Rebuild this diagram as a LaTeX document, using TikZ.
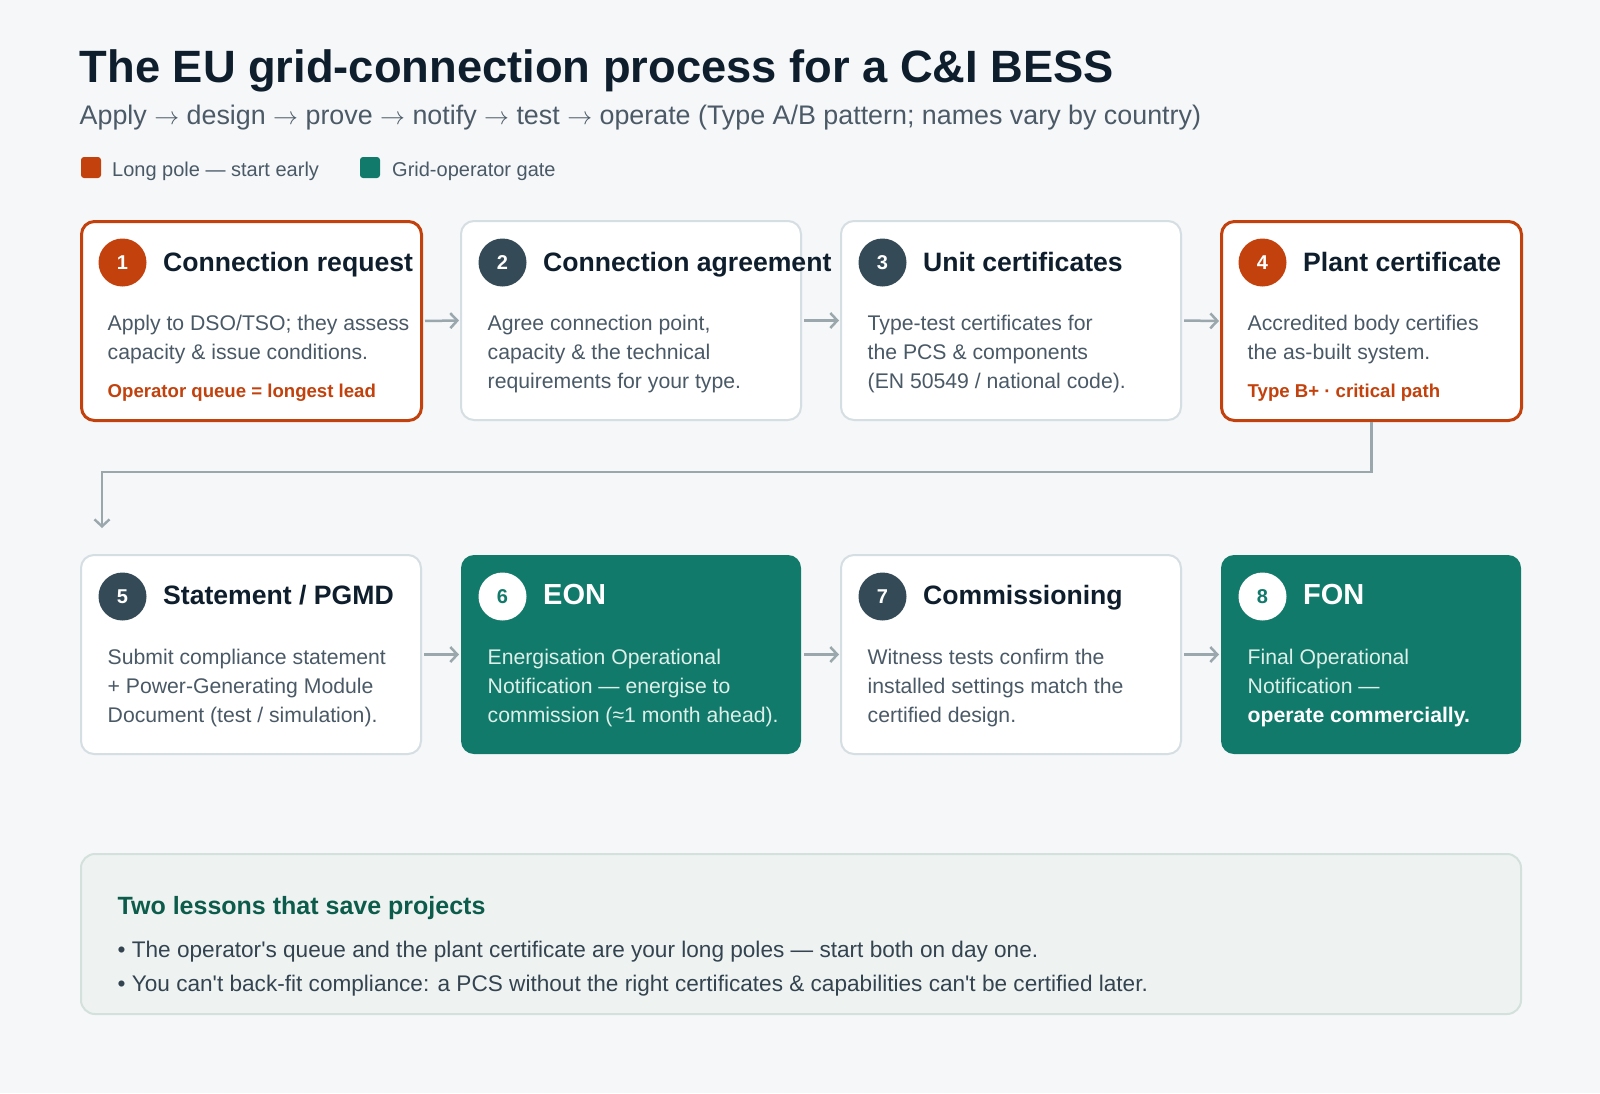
\documentclass[tikz,border=0pt]{standalone}
\usepackage{fontspec}
\setmainfont{Liberation Sans}
\usetikzlibrary{arrows.meta}
\definecolor{bg}{HTML}{F5F7F9}
\definecolor{ink}{HTML}{0F1E2C}
\definecolor{sub}{HTML}{4B5A66}
\definecolor{body}{HTML}{4A5966}
\definecolor{cardline}{HTML}{D5DEE2}
\definecolor{longc}{HTML}{C2410C}
\definecolor{gatec}{HTML}{117A6A}
\definecolor{dark}{HTML}{344A57}
\definecolor{arrowc}{HTML}{9AA7AD}
\definecolor{gatetext}{HTML}{DDEFEA}
\definecolor{lessfill}{HTML}{EEF3F2}
\definecolor{lessline}{HTML}{D3E0DC}
\definecolor{lesstitle}{HTML}{0D5C4B}
\definecolor{lesstext}{HTML}{33434F}
\newcommand\thento{$\rightarrow$}
\begin{document}
\begin{tikzpicture}[x=1pt,y=-1pt,
  card/.style={draw=cardline,line width=2pt,fill=white,rounded corners=13pt,
    anchor=north west,inner sep=0pt,minimum width=340pt,minimum height=199pt},
  longpole/.style={draw=longc,line width=3pt},
  gate/.style={draw=none,fill=gatec},
  num/.style={circle,fill=dark,text=white,minimum size=48pt,inner sep=0pt,
    font=\fontsize{20}{20}\selectfont\bfseries},
  ttl/.style={anchor=base west,inner sep=0pt,text=ink,
    font=\fontsize{26.6}{30}\selectfont\bfseries},
  gttl/.style={ttl,text=white,font=\fontsize{29}{32}\selectfont\bfseries},
  txt/.style={anchor=base west,inner sep=0pt,text=body,
    font=\fontsize{21.2}{26}\selectfont},
  lead/.style={anchor=base west,inner sep=0pt,text=longc,
    font=\fontsize{18.6}{22}\selectfont\bfseries},
  lesson/.style={anchor=base west,inner sep=0pt,text=lesstext,
    font=\fontsize{22.6}{27}\selectfont},
  flow/.style={draw=arrowc,line width=2.5pt,-{Straight Barb[length=7pt,width=15pt]}}]
\useasboundingbox[fill=bg] (0,0) rectangle (1600,1093);

% heading and legend
\node[anchor=base west,inner sep=0pt,text=ink,font=\fontsize{45.3}{50}\selectfont\bfseries]
  (title) at (79.5,82) {The EU grid-connection process for a C\&I BESS};
\node[anchor=base west,inner sep=0pt,text=sub,font=\fontsize{26.85}{32}\selectfont]
  (subtitle) at (79.5,124.5) {Apply \thento{} design \thento{} prove \thento{} notify \thento{} test \thento{} operate (Type A/B pattern; names vary by country)};
\fill[longc,rounded corners=3pt] (81,157) rectangle (101,178);
\node[txt] (key1) at (112,176) {\fontsize{20}{24}\selectfont Long pole — start early};
\fill[gatec,rounded corners=3pt] (360,157) rectangle (380,178);
\node[txt] (key2) at (392,176) {\fontsize{20}{24}\selectfont Grid-operator gate};

% row 1
\node[card,longpole] (c1) at (80,220) {};
\node[num,fill=longc] (n1) at (122.5,262.5) {1};
\node[ttl] (t1) at (163,271) {Connection request};
\foreach \l [count=\k from 0] in {{Apply to DSO/TSO; they assess},{capacity \& issue conditions.}}
  \node[txt] (d1-\k) at (107.5,330+29*\k) {\l};
\node[lead] (r1) at (107.5,397) {Operator queue = longest lead};

\node[card] (c2) at (460,220) {};
\node[num] (n2) at (502.5,262.5) {2};
\node[ttl] (t2) at (543,271) {Connection agreement};
\foreach \l [count=\k from 0] in {{Agree connection point,},{capacity \& the technical},{requirements for your type.}}
  \node[txt] (d2-\k) at (487.5,330+29*\k) {\l};

\node[card] (c3) at (840,220) {};
\node[num] (n3) at (882.5,262.5) {3};
\node[ttl] (t3) at (923,271) {Unit certificates};
\foreach \l [count=\k from 0] in {{Type-test certificates for},{the PCS \& components},{(EN 50549 / national code).}}
  \node[txt] (d3-\k) at (867.5,330+29*\k) {\l};

\node[card,longpole,minimum width=300pt] (c4) at (1220,220) {};
\node[num,fill=longc] (n4) at (1262.5,262.5) {4};
\node[ttl] (t4) at (1303,271) {Plant certificate};
\foreach \l [count=\k from 0] in {{Accredited body certifies},{the as-built system.}}
  \node[txt] (d4-\k) at (1247.5,330+29*\k) {\l};
\node[lead] (r4) at (1247.5,397) {Type B+ · critical path};

% row 2
\node[card] (c5) at (80,554) {};
\node[num] (n5) at (122.5,596.5) {5};
\node[ttl] (t5) at (163,604) {Statement / PGMD};
\foreach \l [count=\k from 0] in {{Submit compliance statement},{+ Power-Generating Module},{Document (test / simulation).}}
  \node[txt] (d5-\k) at (107.5,664+29*\k) {\l};

\node[card,gate] (c6) at (460,554) {};
\node[num,fill=white,text=gatec] (n6) at (502.5,596.5) {6};
\node[gttl] (t6) at (543,604) {EON};
\foreach \l [count=\k from 0] in {{Energisation Operational},{Notification — energise to},{commission (≈1 month ahead).}}
  \node[txt,text=gatetext] (d6-\k) at (487.5,664+29*\k) {\l};

\node[card] (c7) at (840,554) {};
\node[num] (n7) at (882.5,596.5) {7};
\node[ttl] (t7) at (923,604) {Commissioning};
\foreach \l [count=\k from 0] in {{Witness tests confirm the},{installed settings match the},{certified design.}}
  \node[txt] (d7-\k) at (867.5,664+29*\k) {\l};

\node[card,gate,minimum width=300pt] (c8) at (1220,554) {};
\node[num,fill=white,text=gatec] (n8) at (1262.5,596.5) {8};
\node[gttl] (t8) at (1303,604) {FON};
\node[txt,text=gatetext] (d8-0) at (1247.5,664) {Final Operational};
\node[txt,text=gatetext] (d8-1) at (1247.5,693) {Notification —};
\node[txt,text=white,font=\fontsize{21.2}{26}\selectfont\bfseries] (d8-2) at (1247.5,722) {operate commercially.};

% connectors
\foreach \a/\b in {c1/c2,c2/c3,c3/c4,c5/c6,c6/c7,c7/c8}
  \draw[flow,shorten <=2pt,shorten >=1pt] (\a.east) -- (\b.west);
\coordinate (turn) at (102,472);
\coordinate (drop) at (102,528);
\draw[flow,line width=2.4pt] (c4.south) |- (turn) -- (drop);

% lessons
\node[draw=lessline,fill=lessfill,line width=2pt,rounded corners=14pt,anchor=north west,
  inner sep=0pt,minimum width=1440pt,minimum height=160pt] (lessons) at (80,853) {};
\node[anchor=base west,inner sep=0pt,text=lesstitle,font=\fontsize{25}{30}\selectfont\bfseries]
  (lt) at (117.5,914) {Two lessons that save projects};
\node[lesson] (l1) at (117.5,957) {• The operator\textquotesingle s queue and the plant certificate are your long poles — start both on day one.};
\node[lesson] (l2) at (117.5,991) {• You can\textquotesingle t back-fit compliance: a PCS without the right certificates \& capabilities can\textquotesingle t be certified later.};
\end{tikzpicture}
\end{document}
